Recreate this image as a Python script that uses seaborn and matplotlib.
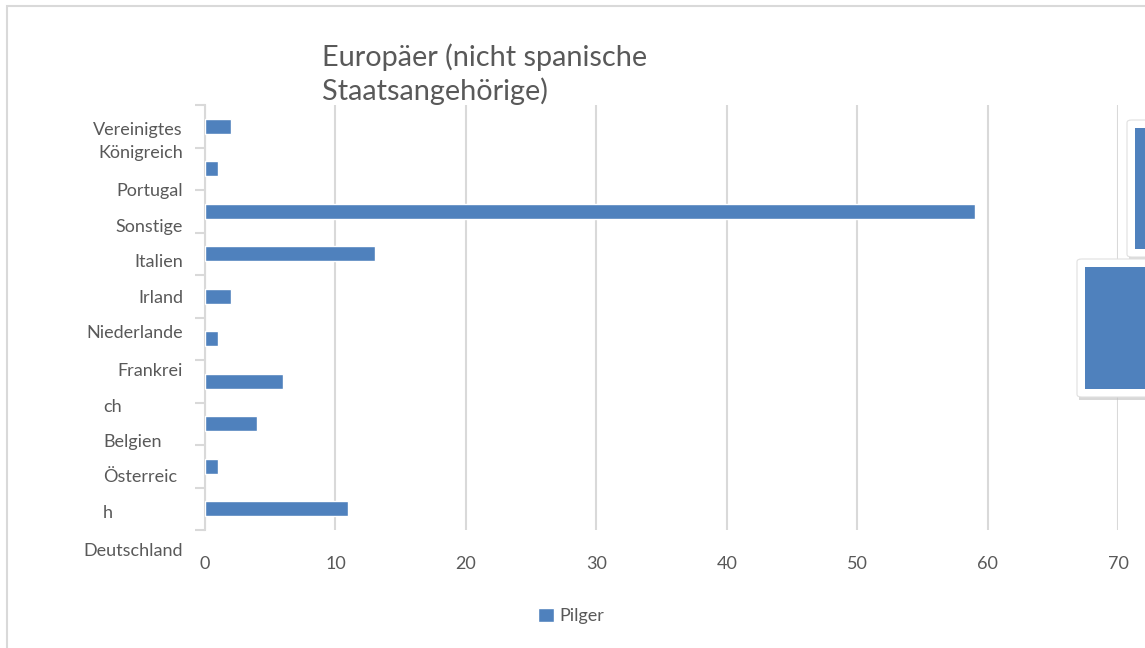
import matplotlib
matplotlib.use("Agg")
import matplotlib.pyplot as plt
import matplotlib.patches as mpatches
import seaborn as sns
import pandas as pd

# ---- data (top to bottom as drawn) ----
categories = ["Vereinigtes Königreich", "Portugal", "Sonstige", "Italien", "Irland",
              "Niederlande", "Frankreich", "Belgien", "Österreich", "Deutschland"]
pilger = [2, 1, 59, 13, 2, 1, 6, 4, 1, 11]
x_ticks = [0, 10, 20, 30, 40, 50, 60, 70]
title_text = "Europäer (nicht spanische\nStaatsangehörige)"
series_name = "Pilger"
# category labels as the original rendered them (wrapped lines)
label_lines = ["Vereinigtes", "Königreich", "Portugal", "Sonstige", "Italien", "Irland",
               "Niederlande", "Frankrei", "ch", "Belgien", "Österreic", "h", "Deutschland"]

W, H = 1145, 648
BLUE = "#4F81BD"
GRID = "#d9d9d9"
TXT = "#595959"
FONT = "Lato"

sns.set_theme(style="white")
plt.rcParams["font.family"] = [FONT, "DejaVu Sans"]

fig = plt.figure(figsize=(W / 100, H / 100), dpi=100)
fig.patch.set_facecolor("white")

def fx(x):
    return x / W

def fy(y):
    return 1 - y / H

ax_l, ax_r, ax_t, ax_b = 205, 1118, 105, 530
ax = fig.add_axes([fx(ax_l), fy(ax_b), fx(ax_r - ax_l), (ax_b - ax_t) / H])

df = pd.DataFrame({"Land": categories, "Pilger": pilger})
sns.barplot(data=df, x="Pilger", y="Land", orient="h", color=BLUE, width=0.36,
            saturation=1, ax=ax, label=series_name, zorder=3)

ax.set_xlim(0, 70)
ax.set_ylim(len(categories) - 0.5, -0.5)
ax.set_xlabel("")
ax.set_ylabel("")
ax.set_xticks(x_ticks)
ax.set_xticklabels([str(t) for t in x_ticks], fontsize=13, color=TXT)
ax.tick_params(axis="x", length=0, pad=19)
ax.set_yticks([i - 0.5 for i in range(len(categories) + 1)])
ax.set_yticklabels([])
ax.tick_params(axis="y", length=7, width=1.5, color=GRID, left=True)
ax.grid(axis="x", color=GRID, linewidth=1.5, zorder=0)
ax.grid(axis="y", visible=False)
for s in ["top", "right", "bottom"]:
    ax.spines[s].set_visible(False)
ax.spines["left"].set_color(GRID)
ax.spines["left"].set_linewidth(1.5)
ax.set_facecolor("none")

# category labels (as rendered in the original)
label_y = [130, 153, 191, 227, 262, 298, 333, 371, 407, 442, 477, 513, 551]
label_align = ["right", "right", "right", "right", "right", "right", "right",
               "right", "left", "left", "left", "left", "right"]
for text, y, al in zip(label_lines, label_y, label_align):
    x = 183 if al == "right" else 103
    fig.text(fx(x), fy(y), text, ha=al, va="center", fontsize=13, color=TXT)

# title
fig.text(fx(322), fy(74), title_text, ha="left", va="center", fontsize=20.8,
         color=TXT, linespacing=1.3)

# legend
handles, labels = ax.get_legend_handles_labels()
leg = ax.legend(handles[:1], labels[:1], loc="center",
                bbox_to_anchor=(fx(571), fy(616)), bbox_transform=fig.transFigure,
                frameon=False, handlelength=0.85, handleheight=0.85,
                handletextpad=0.3, fontsize=13, labelcolor=TXT)

# outer chart border
fig.patches.append(mpatches.Rectangle((fx(7), fy(660)), fx(1160), (660 - 6) / H,
                                      transform=fig.transFigure, fill=False,
                                      edgecolor=GRID, linewidth=1.5))

# the two stray boxes at the right edge
def box(x0, y0, x1, y1, inset):
    sh = mpatches.Rectangle((fx(x0 + 2), fy(y1 + 3)), fx(x1 - x0), (y1 - y0) / H,
                            transform=fig.transFigure, facecolor="#bfbfbf",
                            edgecolor="none", alpha=0.6, zorder=5)
    wb = mpatches.FancyBboxPatch((fx(x0), fy(y1)), fx(x1 - x0), (y1 - y0) / H,
                                 boxstyle="round,pad=0,rounding_size=0.004",
                                 transform=fig.transFigure, facecolor="white",
                                 edgecolor="#e0e0e0", linewidth=0.8, zorder=6)
    bl = mpatches.Rectangle((fx(x0 + inset), fy(y1 - inset)), fx(x1 - x0 - inset),
                            (y1 - y0 - 2 * inset) / H, transform=fig.transFigure,
                            facecolor=BLUE, edgecolor="none", zorder=7)
    for p in (sh, wb, bl):
        fig.patches.append(p)

box(1127, 120, 1160, 257, 8)
box(1077, 259, 1160, 397, 8)

fig.savefig("out.png", dpi=100, facecolor="white")
